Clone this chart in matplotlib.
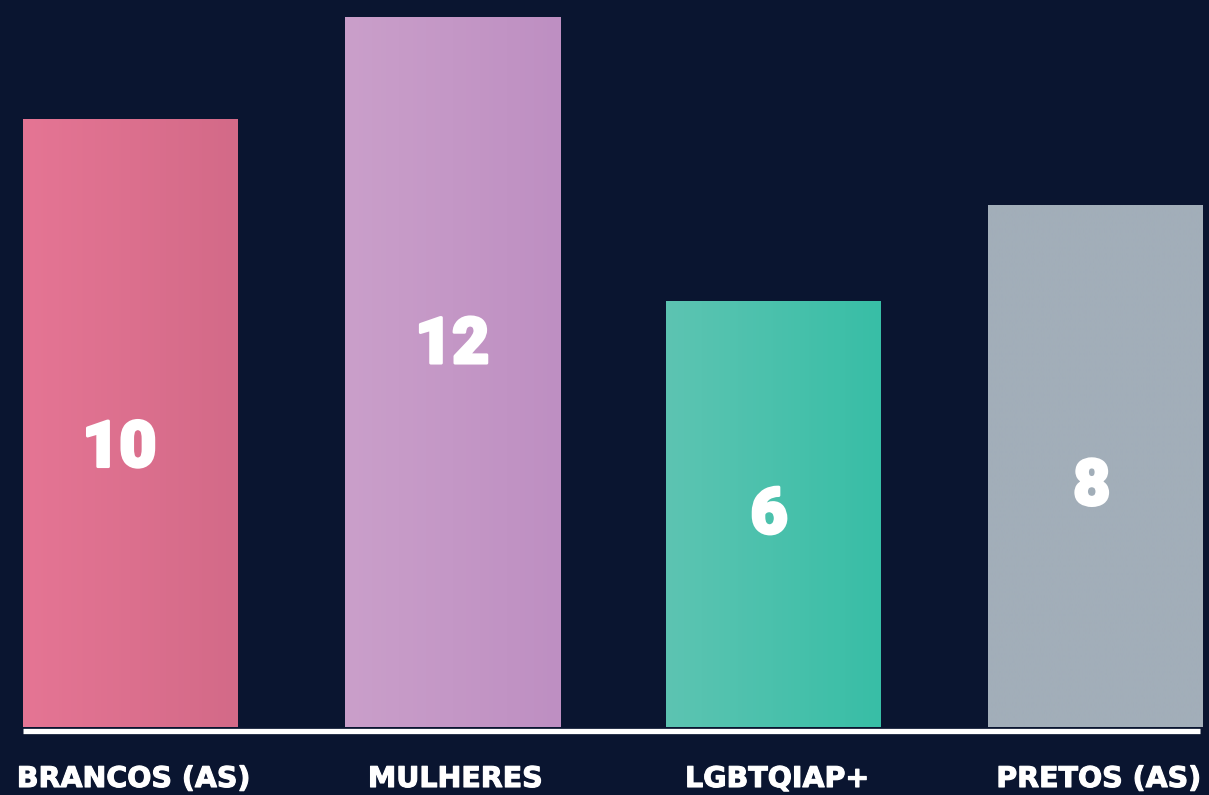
""" Bar chart with gradient bars on a dark background. """

import numpy as np
import matplotlib
matplotlib.use('Agg')
import matplotlib.pyplot as plt
import matplotlib.patheffects as pe
from matplotlib.colors import LinearSegmentedColormap

# data
categories = ['BRANCOS (AS)', 'MULHERES', 'LGBTQIAP+', 'PRETOS (AS)']
values = [10, 12, 6, 8]
# drawn bar heights (the chart is not to scale with the printed values)
bar_heights = [608, 710, 426, 522]

# gradient colours, left -> right
left_colors = ['#E57594', '#CA9FCA', '#5DC4B2', '#A2AEB9']
right_colors = ['#D36A88', '#BE8FC2', '#38BEA6', '#A2AEB9']

BG = '#0A1530'

fig = plt.figure(figsize=(12.09, 7.95), dpi=100, facecolor=BG)
ax = fig.add_axes([0, 0, 1, 1])
ax.set_facecolor(BG)

step = 321.7      # px between bar centres
x0 = 130.5        # px centre of first bar
width = 215 / step
ax.set_xlim(-x0 / step, (1209 - x0) / step)
ax.set_ylim(-68, 727)
ax.axis('off')

xs = np.arange(len(categories))
bars = ax.bar(xs, bar_heights, width=width, color='none', edgecolor='none')

# fill each bar with a horizontal gradient
grad = np.linspace(0, 1, 256).reshape(1, -1)
for bar, c1, c2 in zip(bars, left_colors, right_colors):
    cmap = LinearSegmentedColormap.from_list('g', [c1, c2])
    x, y = bar.get_x(), bar.get_y()
    w, h = bar.get_width(), bar.get_height()
    ax.imshow(grad, cmap=cmap, aspect='auto', extent=[x, x + w, y, y + h],
              zorder=2, interpolation='bilinear')

# white baseline
ax.plot([-107.5 / step, (1200 - x0) / step], [-3.5, -3.5], color='white',
        lw=3.8, solid_capstyle='butt', zorder=3)

# value labels inside the bars (thickened with a white stroke)
thick = [pe.withStroke(linewidth=2.2, foreground='white')]
label_frac = [0.458, 0.538, 0.497, 0.46]
label_dx = [-0.035, 0.0, -0.015, -0.012]
for x, h, v, f, dx in zip(xs, bar_heights, values, label_frac, label_dx):
    ax.text(x + dx, h * f, str(v), ha='center', va='center', color='white',
            fontsize=46, fontweight='black', family=['Roboto', 'DejaVu Sans'],
            zorder=4, path_effects=thick)

# category labels under the baseline
for x, cat in zip(xs, categories):
    ax.text(x + 0.01, -52, cat, ha='center', va='center', color='white',
            fontsize=20.5, fontweight='bold', family=['DejaVu Sans'],
            path_effects=[pe.withStroke(linewidth=0.8, foreground='white')])

fig.savefig('out.png', dpi=100, facecolor=BG)
